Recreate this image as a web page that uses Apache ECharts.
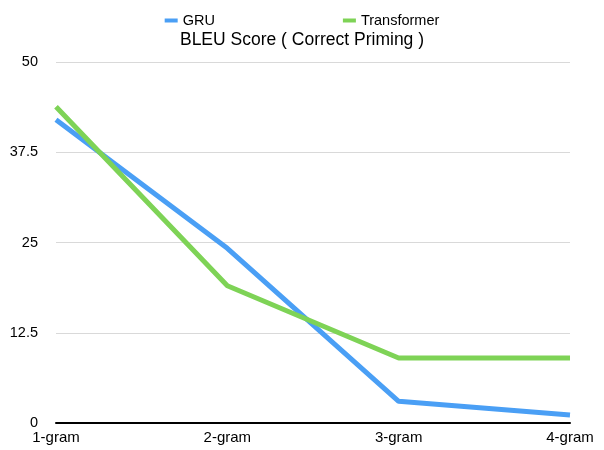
<!DOCTYPE html>
<html>
<head>
<meta charset="utf-8">
<script src="https://cdn.jsdelivr.net/npm/echarts@6/dist/echarts.min.js"></script>
<style>
  html, body { margin: 0; padding: 0; background: #fff; }
  #chart { width: 604px; height: 450px; }
</style>
</head>
<body>
<div id="chart"></div>
<script>
const categories = ["1-gram", "2-gram", "3-gram", "4-gram"];
const gruScores = [42, 24.2, 3, 1.1];
const transformerScores = [43.8, 19, 9, 9];

const chart = echarts.init(document.getElementById("chart"));
chart.setOption({
  animation: false,
  textStyle: { fontFamily: "Liberation Sans, Arial, sans-serif" },
  title: {
    text: "BLEU Score ( Correct Priming )",
    left: "center",
    top: 26,
    textStyle: { fontSize: 17.5, fontWeight: "normal", color: "#000" }
  },
  legend: {
    top: 8,
    left: "center",
    itemGap: 128,
    itemWidth: 13,
    itemHeight: 4,
    icon: "rect",
    textStyle: { fontSize: 14.5, color: "#000" },
    data: ["GRU", "Transformer"]
  },
  grid: { left: 56, right: 34, top: 62, bottom: 27 },
  xAxis: {
    type: "category",
    boundaryGap: false,
    data: categories,
    axisLine: { lineStyle: { color: "#000", width: 2 } },
    axisTick: { show: false },
    axisLabel: { color: "#000", fontSize: 15, margin: 7, interval: 0 }
  },
  yAxis: {
    type: "value",
    min: 0,
    max: 50,
    interval: 12.5,
    axisLine: { show: false },
    axisTick: { show: false },
    axisLabel: { color: "#000", fontSize: 14.5, margin: 18 },
    splitLine: { lineStyle: { color: "#d9d9d9", width: 1 } }
  },
  series: [
    {
      name: "GRU",
      type: "line",
      data: gruScores,
      color: "#4a9ff5",
      symbol: "none",
      lineStyle: { width: 5, color: "#4a9ff5" }
    },
    {
      name: "Transformer",
      type: "line",
      data: transformerScores,
      color: "#7ed356",
      symbol: "none",
      lineStyle: { width: 5, color: "#7ed356" }
    }
  ]
});
</script>
</body>
</html>
